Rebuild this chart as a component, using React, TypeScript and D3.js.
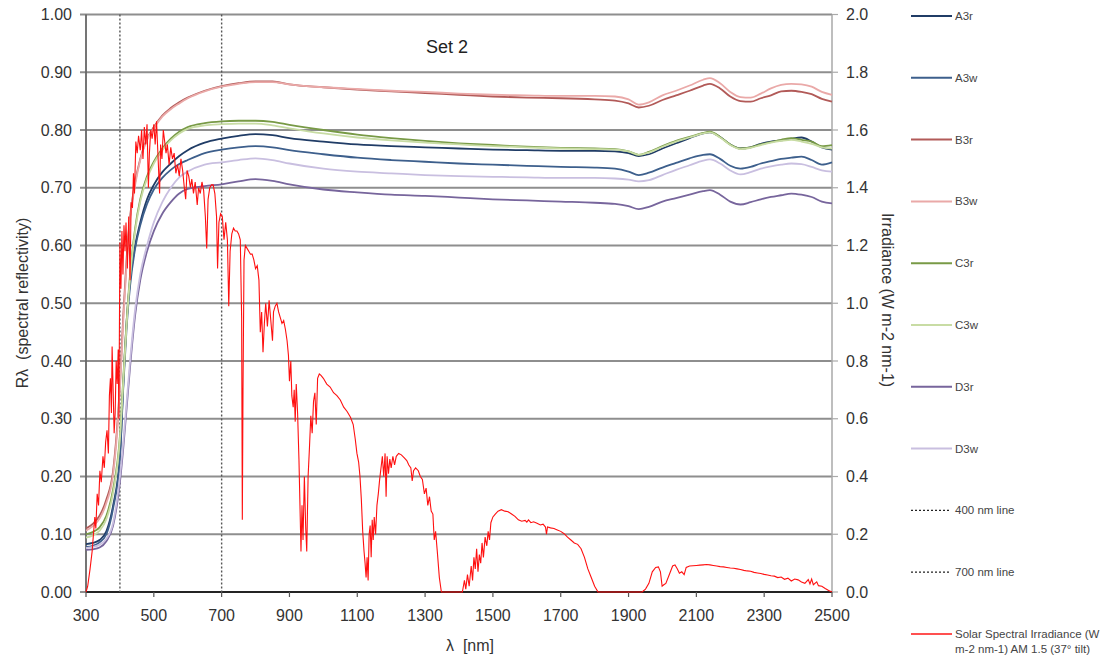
import React from "react";
import * as d3 from "d3";

// ---- data ----
const wavelengths = [300, 320, 340, 360, 380, 400, 410, 420, 430, 445, 460, 480, 500, 525, 550, 575, 600, 650, 700, 750, 800, 850, 900, 1000, 1100, 1200, 1300, 1400, 1500, 1600, 1700, 1800, 1860, 1900, 1930, 1960, 2000, 2040, 2080, 2120, 2140, 2170, 2200, 2230, 2260, 2290, 2320, 2350, 2380, 2410, 2440, 2470, 2500];

const A3r = [0.083, 0.085, 0.090, 0.105, 0.150, 0.235, 0.360, 0.470, 0.540, 0.600, 0.640, 0.680, 0.705, 0.727, 0.742, 0.755, 0.765, 0.778, 0.785, 0.790, 0.793, 0.791, 0.786, 0.780, 0.775, 0.772, 0.770, 0.768, 0.766, 0.765, 0.764, 0.764, 0.763, 0.760, 0.755, 0.758, 0.768, 0.777, 0.786, 0.794, 0.796, 0.788, 0.775, 0.768, 0.770, 0.776, 0.780, 0.782, 0.785, 0.787, 0.780, 0.770, 0.766];
const A3w = [0.078, 0.080, 0.086, 0.100, 0.145, 0.230, 0.355, 0.460, 0.530, 0.595, 0.635, 0.672, 0.697, 0.717, 0.731, 0.741, 0.748, 0.760, 0.766, 0.770, 0.772, 0.770, 0.765, 0.758, 0.752, 0.748, 0.745, 0.742, 0.740, 0.738, 0.736, 0.735, 0.733, 0.728, 0.722, 0.726, 0.735, 0.743, 0.751, 0.757, 0.758, 0.750, 0.738, 0.733, 0.736, 0.742, 0.746, 0.750, 0.752, 0.754, 0.748, 0.740, 0.744];
const B3r = [0.110, 0.118, 0.132, 0.160, 0.210, 0.360, 0.480, 0.580, 0.650, 0.710, 0.750, 0.785, 0.805, 0.825, 0.838, 0.848, 0.856, 0.868, 0.876, 0.881, 0.884, 0.884, 0.879, 0.874, 0.870, 0.867, 0.864, 0.861, 0.858, 0.856, 0.855, 0.853, 0.851, 0.846, 0.839, 0.842, 0.852, 0.860, 0.868, 0.877, 0.880, 0.872, 0.858, 0.850, 0.849, 0.855, 0.860, 0.867, 0.868, 0.866, 0.862, 0.854, 0.849];
const B3w = [0.106, 0.114, 0.127, 0.154, 0.204, 0.350, 0.470, 0.570, 0.645, 0.705, 0.748, 0.783, 0.803, 0.823, 0.836, 0.846, 0.855, 0.867, 0.875, 0.880, 0.883, 0.883, 0.879, 0.874, 0.871, 0.868, 0.866, 0.863, 0.861, 0.860, 0.859, 0.859, 0.858, 0.853, 0.844, 0.848, 0.860, 0.868, 0.877, 0.887, 0.890, 0.881, 0.866, 0.857, 0.856, 0.863, 0.872, 0.878, 0.880, 0.879, 0.875, 0.866, 0.861];
const C3r = [0.100, 0.104, 0.112, 0.132, 0.178, 0.270, 0.370, 0.470, 0.550, 0.630, 0.680, 0.720, 0.745, 0.768, 0.785, 0.797, 0.805, 0.812, 0.815, 0.816, 0.816, 0.814, 0.809, 0.800, 0.792, 0.786, 0.781, 0.777, 0.774, 0.771, 0.769, 0.768, 0.767, 0.763, 0.757, 0.762, 0.772, 0.781, 0.788, 0.795, 0.797, 0.788, 0.775, 0.768, 0.770, 0.775, 0.779, 0.783, 0.786, 0.783, 0.780, 0.772, 0.774];
const C3w = [0.094, 0.098, 0.106, 0.126, 0.172, 0.265, 0.365, 0.465, 0.545, 0.625, 0.676, 0.716, 0.742, 0.765, 0.782, 0.794, 0.802, 0.808, 0.810, 0.811, 0.811, 0.808, 0.803, 0.794, 0.787, 0.782, 0.778, 0.775, 0.772, 0.770, 0.768, 0.767, 0.766, 0.763, 0.757, 0.761, 0.771, 0.780, 0.787, 0.794, 0.796, 0.787, 0.774, 0.767, 0.769, 0.774, 0.778, 0.781, 0.783, 0.780, 0.776, 0.770, 0.768];
const D3r = [0.073, 0.074, 0.077, 0.088, 0.115, 0.190, 0.250, 0.320, 0.390, 0.480, 0.540, 0.590, 0.625, 0.655, 0.675, 0.690, 0.698, 0.703, 0.706, 0.711, 0.715, 0.712, 0.706, 0.697, 0.692, 0.688, 0.686, 0.683, 0.680, 0.678, 0.676, 0.674, 0.672, 0.668, 0.663, 0.667, 0.676, 0.682, 0.688, 0.694, 0.696, 0.688, 0.676, 0.671, 0.675, 0.680, 0.684, 0.687, 0.690, 0.688, 0.684, 0.676, 0.673];
const D3w = [0.076, 0.078, 0.082, 0.092, 0.120, 0.200, 0.260, 0.330, 0.400, 0.490, 0.550, 0.600, 0.640, 0.675, 0.700, 0.718, 0.728, 0.740, 0.744, 0.748, 0.751, 0.748, 0.742, 0.733, 0.728, 0.725, 0.722, 0.720, 0.719, 0.718, 0.717, 0.717, 0.716, 0.714, 0.711, 0.713, 0.722, 0.731, 0.739, 0.747, 0.749, 0.742, 0.730, 0.723, 0.727, 0.733, 0.737, 0.740, 0.742, 0.741, 0.736, 0.730, 0.728];

const solarWl = [300, 305, 312, 318, 322, 326, 329, 333, 337, 341, 345, 350, 354, 358, 362, 366, 369, 372, 375, 377, 380, 383, 386, 389, 392, 395, 397, 400, 403, 406, 409, 412, 415, 418, 422, 426, 430, 433, 437, 440, 443, 447, 451, 455, 460, 464, 468, 472, 476, 480, 484, 487, 491, 495, 500, 504, 508, 512, 517, 520, 524, 528, 532, 536, 540, 545, 550, 555, 560, 565, 570, 575, 580, 585, 590, 594, 598, 603, 608, 612, 617, 622, 628, 632, 637, 642, 647, 652, 656, 660, 665, 670, 675, 680, 685, 688, 692, 697, 702, 707, 712, 717, 721, 725, 730, 735, 740, 745, 750, 755, 759, 761, 763, 766, 770, 775, 780, 785, 790, 795, 800, 805, 810, 814, 818, 822, 826, 830, 835, 840, 845, 850, 853, 858, 863, 868, 873, 878, 883, 888, 893, 897, 900, 904, 907, 911, 914, 917, 920, 924, 928, 931, 934, 937, 940, 944, 948, 951, 955, 959, 963, 967, 971, 975, 979, 983, 988, 993, 1000, 1010, 1020, 1030, 1040, 1050, 1060, 1070, 1080, 1088, 1094, 1099, 1104, 1108, 1112, 1116, 1120, 1123, 1126, 1129, 1132, 1135, 1138, 1141, 1144, 1147, 1150, 1154, 1158, 1162, 1166, 1170, 1174, 1178, 1182, 1185, 1188, 1192, 1196, 1200, 1205, 1210, 1215, 1222, 1230, 1238, 1246, 1252, 1258, 1262, 1266, 1272, 1280, 1286, 1292, 1298, 1303, 1308, 1313, 1318, 1323, 1327, 1331, 1336, 1342, 1348, 1410, 1416, 1420, 1425, 1430, 1436, 1440, 1444, 1448, 1452, 1456, 1460, 1464, 1468, 1472, 1477, 1482, 1486, 1490, 1494, 1500, 1507, 1515, 1525, 1535, 1545, 1555, 1565, 1575, 1585, 1595, 1600, 1605, 1612, 1620, 1630, 1640, 1648, 1655, 1658, 1661, 1670, 1680, 1690, 1700, 1710, 1720, 1730, 1740, 1750, 1760, 1770, 1780, 1790, 1800, 1810, 1940, 1950, 1960, 1970, 1980, 1988, 1994, 1999, 2004, 2010, 2020, 2030, 2037, 2044, 2050, 2057, 2064, 2070, 2080, 2090, 2100, 2110, 2120, 2130, 2140, 2150, 2160, 2170, 2180, 2190, 2200, 2210, 2220, 2230, 2240, 2250, 2260, 2270, 2280, 2290, 2300, 2310, 2320, 2330, 2340, 2350, 2360, 2370, 2380, 2390, 2400, 2410, 2420, 2430, 2435, 2440, 2445, 2455, 2460, 2470, 2480, 2490, 2500];
const solarIrr = [0.00, 0.02, 0.08, 0.14, 0.20, 0.26, 0.22, 0.34, 0.30, 0.42, 0.38, 0.47, 0.43, 0.52, 0.56, 0.48, 0.68, 0.74, 0.62, 0.85, 0.70, 0.55, 0.62, 0.80, 0.72, 0.84, 0.60, 1.21, 1.05, 1.25, 1.10, 1.27, 1.18, 1.28, 1.12, 1.30, 1.08, 1.35, 1.33, 1.45, 1.38, 1.56, 1.52, 1.58, 1.53, 1.60, 1.50, 1.61, 1.55, 1.62, 1.40, 1.52, 1.60, 1.57, 1.62, 1.55, 1.63, 1.52, 1.38, 1.55, 1.50, 1.60, 1.56, 1.52, 1.55, 1.48, 1.54, 1.50, 1.52, 1.45, 1.48, 1.44, 1.50, 1.46, 1.40, 1.36, 1.46, 1.44, 1.40, 1.43, 1.38, 1.42, 1.34, 1.40, 1.38, 1.42, 1.39, 1.30, 1.19, 1.36, 1.40, 1.41, 1.41, 1.38, 1.30, 1.12, 1.28, 1.31, 1.30, 1.22, 1.28, 1.22, 0.99, 1.18, 1.24, 1.26, 1.25, 1.25, 1.24, 1.22, 0.95, 0.25, 0.70, 1.15, 1.20, 1.19, 1.18, 1.17, 1.17, 1.15, 1.12, 1.13, 1.08, 0.90, 0.97, 0.83, 0.93, 1.00, 0.92, 1.01, 0.94, 0.87, 0.97, 0.99, 1.00, 0.97, 0.95, 0.93, 0.94, 0.91, 0.87, 0.82, 0.73, 0.80, 0.68, 0.64, 0.70, 0.59, 0.72, 0.62, 0.46, 0.30, 0.14, 0.30, 0.18, 0.40, 0.22, 0.14, 0.40, 0.50, 0.61, 0.55, 0.66, 0.69, 0.58, 0.74, 0.755, 0.75, 0.74, 0.72, 0.71, 0.69, 0.68, 0.665, 0.64, 0.625, 0.605, 0.58, 0.53, 0.48, 0.45, 0.40, 0.32, 0.21, 0.14, 0.10, 0.05, 0.12, 0.04, 0.20, 0.23, 0.12, 0.25, 0.18, 0.26, 0.20, 0.30, 0.34, 0.39, 0.43, 0.47, 0.40, 0.48, 0.33, 0.47, 0.41, 0.46, 0.43, 0.47, 0.44, 0.47, 0.48, 0.475, 0.465, 0.455, 0.44, 0.43, 0.385, 0.42, 0.43, 0.42, 0.40, 0.39, 0.34, 0.36, 0.30, 0.33, 0.28, 0.27, 0.18, 0.21, 0.14, 0.05, 0.00, 0.00, 0.04, 0.01, 0.06, 0.02, 0.09, 0.04, 0.12, 0.08, 0.15, 0.07, 0.13, 0.10, 0.17, 0.12, 0.19, 0.16, 0.21, 0.18, 0.24, 0.26, 0.27, 0.28, 0.285, 0.28, 0.278, 0.27, 0.262, 0.25, 0.245, 0.248, 0.242, 0.25, 0.24, 0.243, 0.238, 0.232, 0.235, 0.225, 0.20, 0.225, 0.222, 0.22, 0.215, 0.21, 0.202, 0.19, 0.18, 0.17, 0.165, 0.15, 0.12, 0.08, 0.05, 0.02, 0.00, 0.00, 0.01, 0.03, 0.07, 0.085, 0.087, 0.07, 0.02, 0.025, 0.03, 0.06, 0.09, 0.094, 0.08, 0.065, 0.07, 0.06, 0.085, 0.09, 0.091, 0.092, 0.093, 0.094, 0.095, 0.094, 0.092, 0.09, 0.088, 0.087, 0.085, 0.083, 0.082, 0.08, 0.078, 0.075, 0.073, 0.072, 0.068, 0.066, 0.064, 0.061, 0.059, 0.056, 0.055, 0.05, 0.052, 0.044, 0.048, 0.038, 0.045, 0.042, 0.035, 0.03, 0.043, 0.028, 0.045, 0.025, 0.035, 0.022, 0.02, 0.012, 0.005, 0.0];

const seriesNames = ["A3r", "A3w", "B3r", "B3w", "C3r", "C3w", "D3r", "D3w"];
const seriesValues = [A3r, A3w, B3r, B3w, C3r, C3w, D3r, D3w];
const seriesColors = ["#203c66", "#3d5f8c", "#b25a58", "#eaa9a8", "#789a46", "#c8dca4", "#77659c", "#c9bfe0"];

const leftTicks = [0, 0.1, 0.2, 0.3, 0.4, 0.5, 0.6, 0.7, 0.8, 0.9, 1.0];
const rightTicks = [0, 0.2, 0.4, 0.6, 0.8, 1.0, 1.2, 1.4, 1.6, 1.8, 2.0];
const xTicks = [300, 500, 700, 900, 1100, 1300, 1500, 1700, 1900, 2100, 2300, 2500];
const markerLines = [400, 700];

const legendLabels = ["A3r", "A3w", "B3r", "B3w", "C3r", "C3w", "D3r", "D3w", "400 nm line", "700 nm line"];
const solarLabel = ["Solar Spectral Irradiance (W", "m-2 nm-1) AM 1.5 (37° tilt)"];

const W = 1119;
const H = 659;
const L = 86, R = 832, T = 14.5, B = 592;
const FONT = "'Liberation Sans', Arial, Helvetica, sans-serif";

export default function App() {
  const x = d3.scaleLinear().domain([300, 2500]).range([L, R]);
  const yL = d3.scaleLinear().domain([0, 1]).range([B, T]);
  const yR = d3.scaleLinear().domain([0, 2]).range([B, T]);

  const reflLine = d3
    .line<number>()
    .x((_, i) => x(wavelengths[i]))
    .y((v) => yL(v))
    .curve(d3.curveMonotoneX);

  const solarLine = d3
    .line<number>()
    .x((_, i) => x(solarWl[i]))
    .y((v) => yR(v));

  const legendY = (i: number) => 16 + i * 61.8;

  return (
    <svg width={W} height={H} style={{ position: "absolute", left: 0, top: 0, background: "#fff" }} fontFamily={FONT}>
      {/* gridlines */}
      {leftTicks.map((t) => (
        <line key={"g" + t} x1={L - 6} x2={R} y1={yL(t)} y2={yL(t)} stroke="#8e8e8e" strokeWidth={1.8} />
      ))}
      {/* right axis ticks */}
      {rightTicks.map((t) => (
        <line key={"rt" + t} x1={R} x2={R + 6} y1={yR(t)} y2={yR(t)} stroke="#aaa" strokeWidth={1.2} />
      ))}
      {/* axes */}
      <line x1={L} x2={L} y1={T} y2={B} stroke="#666" strokeWidth={1.8} />
      <line x1={R} x2={R} y1={T} y2={B} stroke="#a8a8a8" strokeWidth={1.5} />
      <line x1={L} x2={R} y1={B} y2={B} stroke="#000" strokeWidth={1.5} />
      {xTicks.map((t) => (
        <line key={"xt" + t} x1={x(t)} x2={x(t)} y1={B} y2={B + 5} stroke="#555" strokeWidth={1.2} />
      ))}
      {/* 400 / 700 nm lines */}
      {markerLines.map((m) => (
        <line key={"m" + m} x1={x(m)} x2={x(m)} y1={T} y2={B} stroke="#555" strokeWidth={1.4} strokeDasharray="2,2" />
      ))}
      {/* reflectance series */}
      {seriesValues.map((vals, i) => (
        <path key={seriesNames[i]} d={reflLine(vals) || ""} fill="none" stroke={seriesColors[i]} strokeWidth={1.8} />
      ))}
      {/* solar */}
      <path d={solarLine(solarIrr) || ""} fill="none" stroke="#ff1010" strokeWidth={1.1} />

      {/* left tick labels */}
      {leftTicks.map((t) => (
        <text key={"lt" + t} x={72} y={yL(t)} dy="0.35em" textAnchor="end" fontSize={16} fill="#333">
          {t.toFixed(2)}
        </text>
      ))}
      {rightTicks.map((t) => (
        <text key={"rl" + t} x={846} y={yR(t)} dy="0.35em" textAnchor="start" fontSize={16} fill="#333">
          {t.toFixed(1)}
        </text>
      ))}
      {xTicks.map((t) => (
        <text key={"xl" + t} x={x(t)} y={621} textAnchor="middle" fontSize={16} fill="#333">
          {t}
        </text>
      ))}
      <text x={470} y={651} textAnchor="middle" fontSize={16} fill="#333" style={{ whiteSpace: "pre" }}>{"λ  [nm]"}</text>
      <text transform="translate(28,303) rotate(-90)" textAnchor="middle" fontSize={16} fill="#333" style={{ whiteSpace: "pre" }}>
        {"Rλ  (spectral reflectivity)"}
      </text>
      <text transform="translate(882,300) rotate(90)" textAnchor="middle" fontSize={16} fill="#333">
        Irradiance (W m-2 nm-1)
      </text>
      <text x={447} y={53} textAnchor="middle" fontSize={18} fill="#222">Set 2</text>

      {/* legend */}
      {legendLabels.map((lab, i) => (
        <g key={"lg" + lab}>
          {i < 8 ? (
            <line x1={911} x2={952} y1={legendY(i)} y2={legendY(i)} stroke={seriesColors[i]} strokeWidth={2} />
          ) : (
            <line x1={911} x2={950} y1={legendY(i)} y2={legendY(i)} stroke="#222" strokeWidth={1.2} strokeDasharray="2,2" />
          )}
          <text x={955} y={legendY(i)} dy="0.35em" fontSize={11.5} fill="#444">{lab}</text>
        </g>
      ))}
      <line x1={911} x2={952} y1={legendY(10)} y2={legendY(10)} stroke="#ff5050" strokeWidth={2} />
      <text x={955} y={legendY(10)} dy="0.35em" fontSize={11.5} fill="#444">{solarLabel[0]}</text>
      <text x={955} y={legendY(10) + 15} dy="0.35em" fontSize={11.5} fill="#444">{solarLabel[1]}</text>
    </svg>
  );
}
